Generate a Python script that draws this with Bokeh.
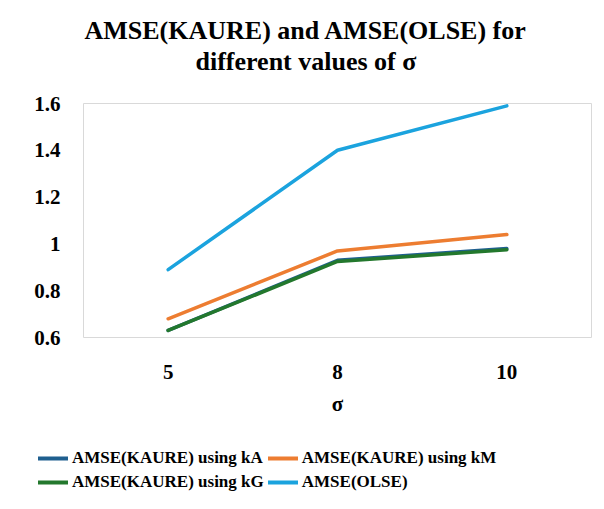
from bokeh.plotting import figure
from bokeh.layouts import column
from bokeh.models import (FactorRange, Range1d, FixedTicker, CustomJSTickFormatter,
                          Title, Legend, LegendItem)
from bokeh.embed import file_html
from bokeh.resources import INLINE

# sigma values (x categories) and AMSE for each estimator
sigma = ["5", "8", "10"]
amse_kaure_ka = [0.63, 0.93, 0.98]
amse_kaure_km = [0.68, 0.97, 1.04]
amse_kaure_kg = [0.63, 0.925, 0.975]
amse_olse = [0.89, 1.40, 1.59]
y_ticks = [0.6, 0.8, 1.0, 1.2, 1.4, 1.6]

SERIF = "Liberation Serif"
series = [
    ("AMSE(KAURE) using kA", amse_kaure_ka, "#1f5f8f"),
    ("AMSE(KAURE) using kM", amse_kaure_km, "#ed7d31"),
    ("AMSE(KAURE) using kG", amse_kaure_kg, "#23782d"),
    ("AMSE(OLSE)", amse_olse, "#1ba3de"),
]

p = figure(width=604, height=420, x_range=FactorRange(*sigma, range_padding=0),
           y_range=Range1d(0.6, 1.6), output_backend="svg", toolbar_location=None,
           title=None, min_border_left=83, min_border_right=13,
           min_border_top=103, min_border_bottom=83)
p.frame_align = False

p.outline_line_color = "#d9d9d9"
p.outline_line_width = 1
p.xgrid.visible = False
p.ygrid.visible = False
p.background_fill_color = "white"
p.border_fill_color = "white"

# two-line bold title (panels stack upward from the plot: spacer, line 2, line 1)
p.add_layout(Title(text=" ", text_font_size="1px", standoff=25), "above")
p.add_layout(Title(text="different values of σ", align="left", offset=112,
                   text_font=SERIF, text_font_size="26px", text_font_style="bold",
                   text_line_height=1.04, standoff=0, text_color="#000000"), "above")
p.add_layout(Title(text="AMSE(KAURE) and AMSE(OLSE) for", align="left", offset=1,
                   text_font=SERIF, text_font_size="26px", text_font_style="bold",
                   text_line_height=1.04, standoff=0, text_color="#000000"), "above")

# axes
for ax in (p.xaxis[0], p.yaxis[0]):
    ax.axis_line_color = None
    ax.major_tick_line_color = None
    ax.minor_tick_line_color = None
    ax.major_label_text_font = SERIF
    ax.major_label_text_font_style = "bold"
    ax.major_label_text_font_size = "21px"
    ax.major_label_text_color = "#000000"

p.yaxis.ticker = FixedTicker(ticks=y_ticks)
p.yaxis.formatter = CustomJSTickFormatter(code="return String(Math.round(tick * 10) / 10);")
p.yaxis.major_label_standoff = 17
p.xaxis.major_label_standoff = 21
p.xaxis.axis_label = "σ"
p.xaxis.axis_label_text_font = SERIF
p.xaxis.axis_label_text_font_style = "bold"
p.xaxis.axis_label_text_font_size = "21px"
p.xaxis.axis_label_text_color = "#000000"
p.xaxis.axis_label_standoff = 10

for name, vals, color in series:
    p.line(sigma, vals, line_color=color, line_width=3.5,
           line_cap="round", line_join="round")

# legend strip below the chart; its lines sit outside the visible y range
lg = figure(width=604, height=89, x_range=FactorRange(*sigma, range_padding=0),
            y_range=Range1d(-2, -1), x_axis_location=None, y_axis_location=None,
            output_backend="svg", toolbar_location=None, title=None,
            min_border_left=0, min_border_right=0, min_border_top=0, min_border_bottom=0)
lg.frame_align = False
lg.xgrid.visible = False
lg.ygrid.visible = False
lg.outline_line_color = None
lg.background_fill_color = "white"
lg.border_fill_color = "white"

items = []
for name, vals, color in series:
    r = lg.line(sigma, vals, line_color=color, line_width=4, line_cap="round")
    items.append(LegendItem(label=name, renderers=[r]))

legend = Legend(items=items, orientation="horizontal", ncols=2, location=(38, 17),
                border_line_color=None, background_fill_alpha=0,
                glyph_width=30, glyph_height=18, label_height=18, label_standoff=4,
                spacing=4, padding=10, margin=0,
                label_text_font=SERIF, label_text_font_style="bold",
                label_text_font_size="17px", label_text_color="#000000")
lg.add_layout(legend, "center")

layout = column(p, lg, spacing=0)
open("out.html", "w").write(file_html(layout, INLINE))
